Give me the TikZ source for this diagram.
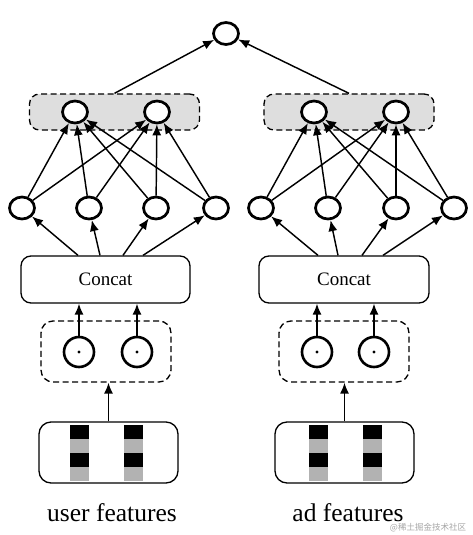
\documentclass[tikz,border=0pt]{standalone}
\usepackage{fontspec}
\setmainfont{Liberation Serif}
\newfontfamily\cjkfont{Noto Sans CJK SC}
\usetikzlibrary{arrows.meta,shapes.geometric,calc}
\begin{document}
\begin{tikzpicture}[x=1pt,y=-1pt,
  neuron/.style={ellipse,draw,line width=2.7pt,minimum width=25pt,minimum height=22pt,inner sep=0pt,fill=white},
  prodnode/.style={circle,draw,line width=2.6pt,minimum size=30pt,inner sep=0pt},
  graybox/.style={rectangle,draw,line width=1.3pt,dash pattern=on 6pt off 3.5pt,rounded corners=10pt,fill=black!13,minimum width=170pt,minimum height=36pt,inner sep=0pt},
  dashbox/.style={rectangle,draw,line width=1.3pt,dash pattern=on 6pt off 3.5pt,rounded corners=12pt,minimum width=130pt,minimum height=61pt,inner sep=0pt},
  concatbox/.style={rectangle,draw,line width=1.3pt,rounded corners=10pt,minimum width=169pt,minimum height=47pt,inner sep=0pt,font=\fontsize{19}{22}\selectfont},
  featbox/.style={rectangle,draw,line width=1.3pt,rounded corners=12pt,minimum width=139pt,minimum height=61pt,inner sep=0pt},
  lbl/.style={font=\fontsize{25.5}{30}\selectfont,inner sep=0pt},
  arr/.style={-{Latex[length=11pt,width=9pt]},line width=1.45pt},
  blackbar/.style={fill=black},
  graybar/.style={fill=black!30}
]
\fill[white] (0,0) rectangle (473,535);

% gray boxes
\node[graybox] (gL) at (114.5,112) {};
\node[graybox] (gR) at (349,112) {};

% top node
\node[neuron] (top) at (226,33.5) {};

% gray-box neurons
\node[neuron] (oL1) at (75,112) {};
\node[neuron] (oL2) at (157,112) {};
\node[neuron] (oR1) at (314,112) {};
\node[neuron] (oR2) at (396,112) {};

% hidden neurons
\node[neuron] (hL1) at (22,208) {};
\node[neuron] (hL2) at (89,208) {};
\node[neuron] (hL3) at (156,208) {};
\node[neuron] (hL4) at (216,208) {};
\node[neuron] (hR1) at (261,208) {};
\node[neuron] (hR2) at (328,208) {};
\node[neuron] (hR3) at (396,208) {};
\node[neuron] (hR4) at (454,208) {};

% concat boxes
\node[concatbox] (cL) at (105.5,279.5) {Concat};
\node[concatbox,minimum width=170pt] (cR) at (344,279.5) {Concat};

% dashed product boxes
\node[dashbox] (dL) at (106,351.5) {};
\node[dashbox] (dR) at (344,351.5) {};
\node[prodnode] (pL1) at (79,352) {};
\node[prodnode] (pL2) at (137,352) {};
\node[prodnode] (pR1) at (317,352) {};
\node[prodnode] (pR2) at (374,352) {};
\foreach \p in {pL1,pL2,pR1,pR2}{\fill (\p.center) circle (1.6pt);}

% feature boxes
\node[featbox] (fL) at (108.5,452.5) {};
\node[featbox] (fR) at (344.5,452.5) {};
\foreach \x in {70,124,309,363}{
  \fill[blackbar] (\x,425) rectangle (\x+19,439);
  \fill[graybar] (\x,439) rectangle (\x+19,453);
  \fill[blackbar] (\x,453) rectangle (\x+19,467);
  \fill[graybar] (\x,467) rectangle (\x+19,481);
}

% labels
\node[lbl] (tL) at (112,513) {user features};
\node[lbl] (tR) at (348,513) {ad features};
\node[font=\cjkfont\fontsize{8.5}{10}\selectfont,text=black!35,inner sep=0pt] (wm) at (428,528) {@稀土掘金技术社区};

% arrows: gray boxes to top
\draw[arr] (gL.north) -- (top);
\draw[arr] (gR.north) -- (top);

% hidden to output neurons
\foreach \s in {L,R}{
  \foreach \i in {1,2,3,4}{
    \draw[arr] (h\s\i) -- (o\s1);
    \draw[arr] (h\s\i) -- (o\s2);
  }
}

% concat to hidden
\coordinate (cL1) at ($(cL.north)+(-27.5,0)$);
\coordinate (cL2) at ($(cL.north)+(-5.5,0)$);
\coordinate (cL3) at ($(cL.north)+(17.5,0)$);
\coordinate (cL4) at ($(cL.north)+(37.5,0)$);
\coordinate (cR1) at ($(cR.north)+(-26,0)$);
\coordinate (cR2) at ($(cR.north)+(-6,0)$);
\coordinate (cR3) at ($(cR.north)+(18,0)$);
\coordinate (cR4) at ($(cR.north)+(39,0)$);
\foreach \s in {L,R}{
  \foreach \i in {1,2,3,4}{
    \draw[arr] (c\s\i) -- (h\s\i);
  }
}

% products to concat
\draw[arr] (pL1.north) -- (pL1.north |- cL.south);
\draw[arr] (pL2.north) -- (pL2.north |- cL.south);
\draw[arr] (pR1.north) -- (pR1.north |- cR.south);
\draw[arr] (pR2.north) -- (pR2.north |- cR.south);

% features to product boxes
\draw[arr] (fL.north) -- (fL.north |- dL.south);
\draw[arr] (fR.north) -- (fR.north |- dR.south);
\end{tikzpicture}
\end{document}
